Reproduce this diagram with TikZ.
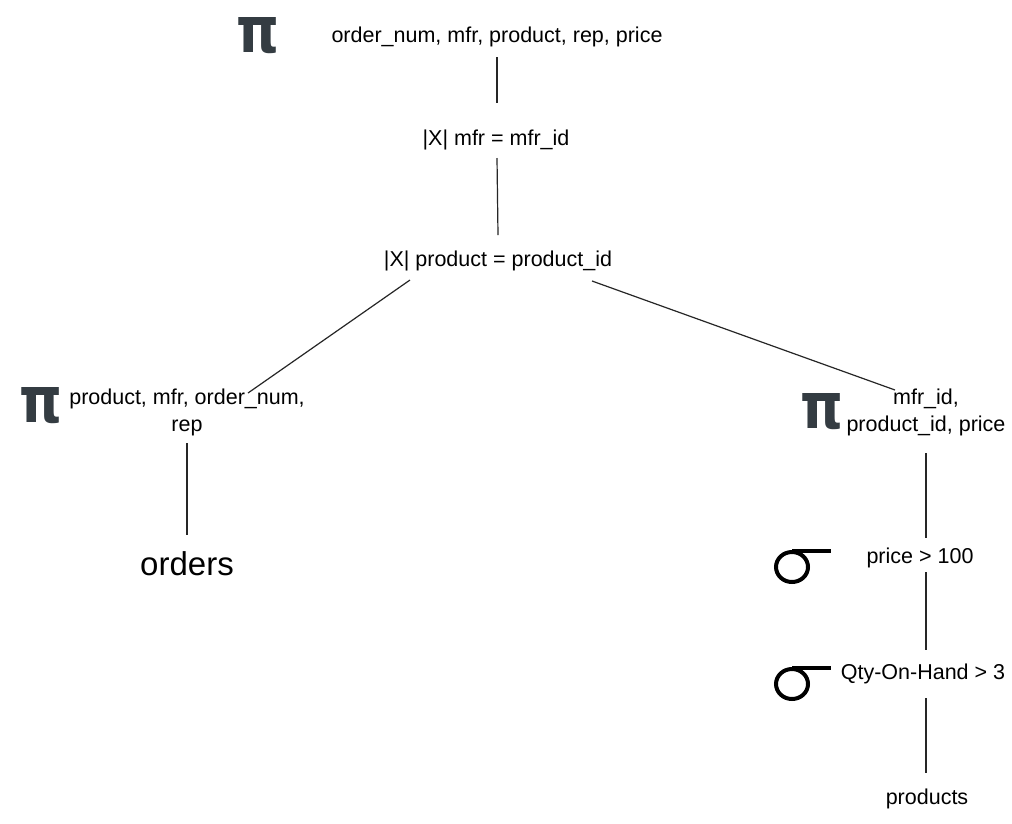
\documentclass[tikz,border=0pt]{standalone}
\usepackage{fontspec}
\setmainfont{Liberation Sans}
\newfontfamily\pifont{DejaVu Sans}
\definecolor{pigray}{HTML}{343C42}
\begin{document}
\begin{tikzpicture}[x=1pt,y=-1pt,
  lbl/.style={font=\fontsize{21.5}{27}\selectfont, inner sep=0pt, align=center},
  big/.style={font=\fontsize{33}{36}\selectfont, inner sep=0pt},
  pisym/.style={font=\pifont\bfseries\fontsize{64}{64}\selectfont, text=pigray, inner sep=0pt, xscale=0.85},
  conn/.style={line width=1.2pt, draw=black!85},
  sig/.style={line width=4pt, draw=black}]
\useasboundingbox (0,0) rectangle (1012,823);
\fill[white] (0,0) rectangle (1012,823);
% nodes
\node[pisym] (pi1) at (258,36) {π};
\node[lbl] (p1) at (497,37) {order\_num, mfr, product, rep, price};
\node[lbl] (j1) at (496,140) {|X| mfr = mfr\_id};
\node[lbl] (j2) at (498,261) {|X| product = product\_id};
\node[pisym] (pi2) at (41,406) {π};
\node[lbl] (p2) at (187,412) {product, mfr, order\_num,\\rep};
\node[big] (orders) at (187,564) {orders};
\node[pisym] (pi3) at (822,412) {π};
\node[lbl] (p3) at (926,412) {mfr\_id,\\product\_id, price};
\node[lbl] (s1) at (920,558) {price > 100};
\node[lbl] (s2) at (923,674) {Qty-On-Hand > 3};
\node[lbl] (rel) at (927,799) {products};
% sigma symbols
\draw[sig] (792,567) ellipse [x radius=16, y radius=15];
\draw[sig] (792,551) -- (831,551);
\draw[sig] (792,684) ellipse [x radius=16, y radius=15];
\draw[sig] (792,668) -- (831,668);
% connectors
\draw[conn] ([yshift=-20pt]p1.center) -- ([xshift=1pt,yshift=37pt]j1.center);
\draw[conn] ([xshift=1pt,yshift=-18pt]j1.center) -- ([yshift=26pt]j2.center);
\draw[conn] ([xshift=-88pt,yshift=-19pt]j2.center) -- ([xshift=61pt,yshift=19pt]p2.center);
\draw[conn] ([xshift=94pt,yshift=-20pt]j2.center) -- ([xshift=-31pt,yshift=22pt]p3.center);
\draw[conn] ([yshift=-31pt]p2.center) -- ([yshift=29pt]orders.center);
\draw[conn] ([yshift=-41pt]p3.center) -- ([xshift=6pt,yshift=20pt]s1.center);
\draw[conn] ([xshift=6pt,yshift=-14pt]s1.center) -- ([xshift=3pt,yshift=24pt]s2.center);
\draw[conn] ([xshift=3pt,yshift=-24pt]s2.center) -- ([xshift=-1pt,yshift=26pt]rel.center);
\end{tikzpicture}
\end{document}
